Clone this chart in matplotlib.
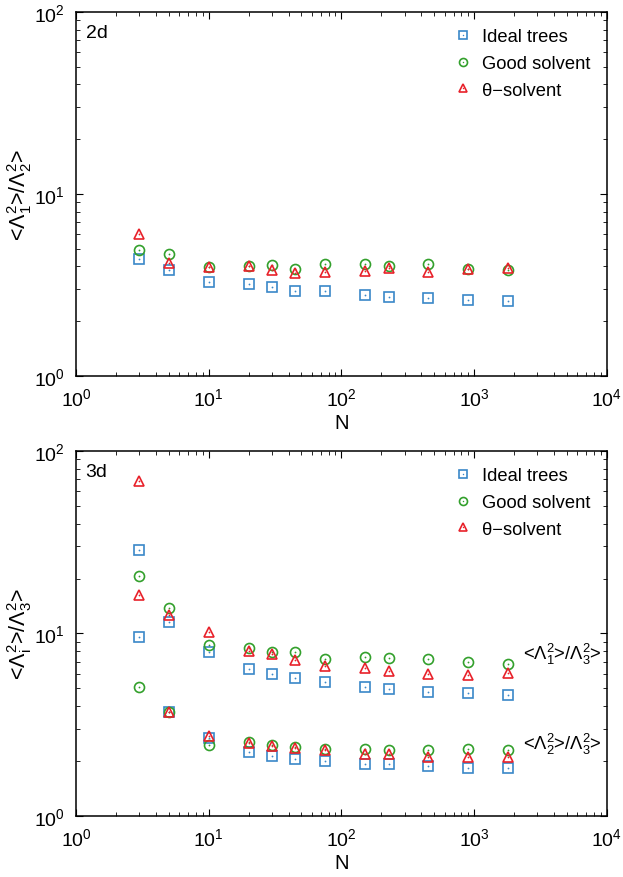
import numpy as np
import matplotlib
matplotlib.use("Agg")
import matplotlib.pyplot as plt
from matplotlib.legend_handler import HandlerTuple

plt.rcParams['font.family'] = ['Liberation Sans', 'DejaVu Sans']
plt.rcParams['mathtext.fontset'] = 'custom'
plt.rcParams['mathtext.rm'] = 'Liberation Sans'
plt.rcParams['mathtext.it'] = 'Liberation Sans:italic'

# chain sizes
N = [3, 5, 10, 20, 30, 45, 75, 150, 230, 450, 900, 1800]

# 2d: <L1^2>/<L2^2>
ideal_2d = [4.38, 3.81, 3.28, 3.21, 3.07, 2.94, 2.92, 2.80, 2.72, 2.69, 2.62, 2.59]
good_2d = [4.92, 4.66, 3.98, 4.00, 4.09, 3.89, 4.11, 4.12, 4.00, 4.14, 3.89, 3.84]
theta_2d = [6.03, 4.16, 3.98, 4.00, 3.81, 3.68, 3.71, 3.79, 3.94, 3.73, 3.89, 3.92]

# 3d: <L1^2>/<L3^2>
ideal_13 = [28.7, 11.6, 7.89, 6.39, 6.00, 5.73, 5.40, 5.09, 4.98, 4.76, 4.70, 4.62]
good_13 = [20.7, 13.86, 8.61, 8.36, 7.95, 7.92, 7.22, 7.41, 7.31, 7.22, 7.01, 6.83]
theta_13 = [68.2, 12.7, 10.2, 8.05, 7.69, 7.19, 6.61, 6.45, 6.25, 5.97, 5.90, 6.08]

# 3d: <L2^2>/<L3^2>
ideal_23 = [9.53, 3.71, 2.68, 2.23, 2.14, 2.06, 2.00, 1.93, 1.92, 1.87, 1.84, 1.83]
good_23 = [5.07, 3.71, 2.46, 2.55, 2.45, 2.40, 2.32, 2.32, 2.31, 2.31, 2.32, 2.31]
theta_23 = [16.3, 3.71, 2.73, 2.52, 2.41, 2.35, 2.29, 2.19, 2.18, 2.11, 2.10, 2.11]

labels = ['Ideal trees', 'Good solvent', 'θ\u2212solvent']
colors = ['#3a87c8', '#33a02c', '#e8212a']
markers = ['s', 'o', '^']


def draw_series(ax, x, y, color, marker, ms=7.2):
    m, = ax.plot(x, y, linestyle='none', marker=marker, ms=ms, mfc='none',
                 mec=color, mew=1.2)
    d, = ax.plot(x, y, linestyle='none', marker='o', ms=1.3, mfc=color,
                 mec=color, mew=0)
    return m, d


def style_axes(ax, ylabel, tag):
    ax.set_xscale('log')
    ax.set_yscale('log')
    ax.set_xlim(1, 1e4)
    ax.set_ylim(1, 100)
    ax.tick_params(which='both', direction='in', top=True, right=True,
                   labelsize=14)
    ax.tick_params(which='major', length=5, width=0.8, pad=8)
    ax.tick_params(which='minor', length=2.6, width=0.6)
    ax.set_xlabel('N', fontsize=14.5, labelpad=3)
    ax.set_ylabel(ylabel, fontsize=15.5, labelpad=0)
    ax.text(0.018, 0.945, tag, transform=ax.transAxes, fontsize=14,
            ha='left', va='center')
    for s in ax.spines.values():
        s.set_linewidth(1.1)


fig = plt.figure(figsize=(6.23, 8.78), dpi=100)
ax1 = fig.add_axes([0.122, 0.5706, 0.852, 0.4146])
ax2 = fig.add_axes([0.122, 0.0695, 0.852, 0.4157])

handles = []
for y, c, mk in zip([ideal_2d, good_2d, theta_2d], colors, markers):
    handles.append(draw_series(ax1, N, y, c, mk))
style_axes(ax1, r'<$\mathregular{\Lambda_1^2}$>/$\mathregular{\Lambda_2^2}$>', '2d')

for y13, y23, c, mk in zip([ideal_13, good_13, theta_13],
                           [ideal_23, good_23, theta_23], colors, markers):
    draw_series(ax2, N, y13, c, mk)
    draw_series(ax2, N, y23, c, mk)
style_axes(ax2, r'<$\mathregular{\Lambda_i^2}$>/$\mathregular{\Lambda_3^2}$>', '3d')

ax2.text(0.842, 0.446, r'<$\mathregular{\Lambda_1^2}$>/$\mathregular{\Lambda_3^2}$>',
         transform=ax2.transAxes, fontsize=13.2, ha='left', va='center')
ax2.text(0.842, 0.199, r'<$\mathregular{\Lambda_2^2}$>/$\mathregular{\Lambda_3^2}$>',
         transform=ax2.transAxes, fontsize=13.2, ha='left', va='center')

for ax in (ax1, ax2):
    ax.legend(handles, labels, handler_map={tuple: HandlerTuple(ndivide=1)},
              loc='upper right', bbox_to_anchor=(0.996, 0.995), frameon=False,
              fontsize=13.2, markerscale=0.8, handlelength=1.2,
              handletextpad=0.4, labelspacing=0.52, borderpad=0.3)

fig.savefig('out.png', dpi=100)
